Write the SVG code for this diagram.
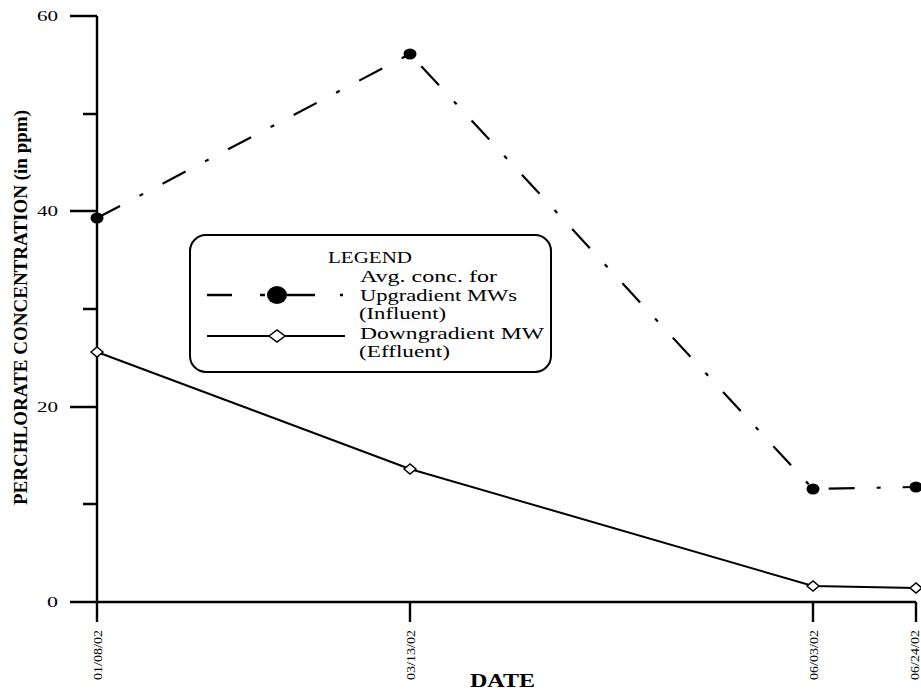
<svg xmlns="http://www.w3.org/2000/svg" width="921" height="690" viewBox="0 0 921 690">
<style>
.ax{stroke:#000;stroke-width:2.4;fill:none}
.tk{font-size:15px;fill:#000}
.dl{font-size:13px;fill:#000}
.lg{font-size:17px;fill:#000}
.inf{stroke:#000;stroke-width:2.2;fill:none;stroke-dasharray:26 22 4 22}
.eff{stroke:#000;stroke-width:2;fill:none}
.dot{fill:#000}
.dia{fill:#fff;stroke:#000;stroke-width:1.5}
</style>
<rect width="921" height="690" fill="#fff"/>
<g id="axes" font-family="'Liberation Serif', 'Times New Roman', serif">
<path class="ax" d="M97 16V622M70 602H916M70 16H97M83 114H97M70 211H97M83 309H97M70 407H97M83 504H97M410 602V622M813 602V622M916 602V622"/>
<text class="tk" x="37" y="21" textLength="21" lengthAdjust="spacingAndGlyphs">60</text>
<text class="tk" x="37" y="216" textLength="21" lengthAdjust="spacingAndGlyphs">40</text>
<text class="tk" x="37" y="412" textLength="21" lengthAdjust="spacingAndGlyphs">20</text>
<text class="tk" x="47" y="607" textLength="11" lengthAdjust="spacingAndGlyphs">0</text>
<text class="dl" transform="translate(102 630) rotate(-90)" text-anchor="end" textLength="50" lengthAdjust="spacingAndGlyphs">01/08/02</text>
<text class="dl" transform="translate(415 630) rotate(-90)" text-anchor="end" textLength="50" lengthAdjust="spacingAndGlyphs">03/13/02</text>
<text class="dl" transform="translate(818 630) rotate(-90)" text-anchor="end" textLength="50" lengthAdjust="spacingAndGlyphs">06/03/02</text>
<text class="dl" transform="translate(919 630) rotate(-90)" text-anchor="end" textLength="50" lengthAdjust="spacingAndGlyphs">06/24/02</text>
<text font-weight="bold" font-size="18" x="470" y="687" textLength="65" lengthAdjust="spacingAndGlyphs">DATE</text>
<text font-weight="bold" font-size="18" transform="translate(27 505) rotate(-90)" textLength="395" lengthAdjust="spacingAndGlyphs">PERCHLORATE CONCENTRATION (in ppm)</text>
</g>
<g id="connectors">
<polyline class="inf" points="97,218 410,54 813,489 916,487"/>
<polyline class="eff" points="97,352 410,469 813,586 916,588"/>
</g>
<g id="influent-points">
<ellipse class="dot" cx="97" cy="218" rx="6.5" ry="5.5"/>
<ellipse class="dot" cx="410" cy="54" rx="6.5" ry="5.5"/>
<ellipse class="dot" cx="813" cy="489" rx="6.5" ry="5.5"/>
<ellipse class="dot" cx="916" cy="487" rx="6.5" ry="5.5"/>
</g>
<g id="effluent-points">
<path class="dia" d="M91 352L97 347L103 352L97 357Z"/>
<path class="dia" d="M404 469L410 464L416 469L410 474Z"/>
<path class="dia" d="M807 586L813 581L819 586L813 591Z"/>
<path class="dia" d="M910 588L916 583L922 588L916 593Z"/>
</g>
<g id="legend" font-family="'Liberation Serif', 'Times New Roman', serif">
<rect x="190" y="235" width="361" height="137" rx="16" ry="16" fill="#fff" stroke="#000" stroke-width="2"/>
<text class="lg" x="328" y="263" textLength="84" lengthAdjust="spacingAndGlyphs">LEGEND</text>
<text class="lg" x="360" y="282" textLength="137" lengthAdjust="spacingAndGlyphs">Avg. conc. for</text>
<text class="lg" x="360" y="301" textLength="157" lengthAdjust="spacingAndGlyphs">Upgradient MWs</text>
<text class="lg" x="359" y="319" textLength="87" lengthAdjust="spacingAndGlyphs">(Influent)</text>
<text class="lg" x="360" y="339" textLength="184" lengthAdjust="spacingAndGlyphs">Downgradient MW</text>
<text class="lg" x="359" y="357" textLength="91" lengthAdjust="spacingAndGlyphs">(Effluent)</text>
<path stroke="#000" stroke-width="2.4" d="M207 295H232M260 295H265M287 295H315M340 295H343"/>
<ellipse class="dot" cx="277" cy="295" rx="10" ry="9"/>
<path stroke="#000" stroke-width="2.2" d="M207 336H345"/>
<path class="dia" d="M269 336L277 330L285 336L277 342Z"/>
</g>
</svg>
